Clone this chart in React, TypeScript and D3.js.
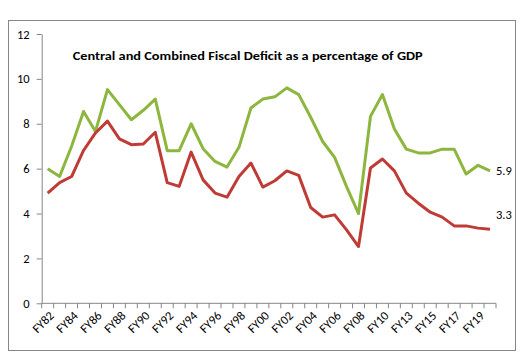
import { useEffect, useRef } from "react";
import * as d3 from "d3";

const years = [
  "FY82", "FY83", "FY84", "FY85", "FY86", "FY87", "FY88", "FY89", "FY90", "FY91",
  "FY92", "FY93", "FY94", "FY95", "FY96", "FY97", "FY98", "FY99", "FY00", "FY01",
  "FY02", "FY03", "FY04", "FY05", "FY06", "FY07", "FY08", "FY09", "FY10", "FY12",
  "FY13", "FY14", "FY15", "FY16", "FY17", "FY18", "FY19", "FY20",
];

const combined = [
  6.0, 5.65, 7.0, 8.55, 7.66, 9.52, 8.85, 8.18, 8.6, 9.1,
  6.8, 6.8, 8.0, 6.89, 6.32, 6.07, 6.95, 8.7, 9.1, 9.2,
  9.6, 9.3, 8.29, 7.21, 6.5, 5.2, 4.0, 8.33, 9.3, 7.77,
  6.87, 6.7, 6.7, 6.87, 6.87, 5.76, 6.15, 5.9,
];

const central = [
  4.91, 5.38, 5.65, 6.81, 7.59, 8.12, 7.33, 7.07, 7.1, 7.62,
  5.38, 5.21, 6.74, 5.5, 4.91, 4.73, 5.65, 6.25, 5.18, 5.46,
  5.9, 5.7, 4.27, 3.84, 3.94, 3.27, 2.53, 6.03, 6.43, 5.9,
  4.91, 4.46, 4.06, 3.84, 3.45, 3.45, 3.35, 3.3,
];

const yTicks = [0, 2, 4, 6, 8, 10, 12];

const GREEN = "#8db63f";
const RED = "#bf3b36";
const AXIS = "#868686";
const FONT = "Carlito, Calibri, 'Open Sans', 'Liberation Sans', sans-serif";

export default function App() {
  const svgRef = useRef<SVGSVGElement>(null);

  useEffect(() => {
    if (!svgRef.current) return;
    const svg = d3.select(svgRef.current);
    svg.selectAll("*").remove();

    const width = 529;
    const height = 363;
    const left = 41.7;
    const right = 496;
    const top = 34;
    const bottom = 303.3;

    svg.attr("viewBox", `0 0 ${width} ${height}`);

    svg.append("rect")
      .attr("width", width)
      .attr("height", height)
      .attr("fill", "#fff");

    // outer chart frame
    svg.append("rect")
      .attr("x", 8.5)
      .attr("y", 20.5)
      .attr("width", 507)
      .attr("height", 330)
      .attr("fill", "none")
      .attr("stroke", AXIS)
      .attr("stroke-width", 1);

    const x = d3.scaleBand().domain(years).range([left, right]).padding(0);
    const y = d3.scaleLinear().domain([0, 12]).range([bottom, top]);
    const cx = (d: string) => (x(d) ?? 0) + x.bandwidth() / 2;

    // y axis
    const yAxis = svg.append("g")
      .attr("transform", `translate(${left},0)`)
      .call(d3.axisLeft(y).tickValues(yTicks).tickSize(5).tickSizeOuter(0).tickPadding(7));
    yAxis.select(".domain").attr("stroke", AXIS);
    yAxis.selectAll("line").attr("stroke", AXIS);
    yAxis.selectAll("text")
      .attr("font-family", FONT)
      .attr("font-size", "12.5px")
      .attr("fill", "#000");

    // x axis: baseline plus ticks between categories
    const xg = svg.append("g");
    xg.append("line")
      .attr("x1", left)
      .attr("x2", right)
      .attr("y1", bottom)
      .attr("y2", bottom)
      .attr("stroke", AXIS);
    const bounds = years.map((d) => x(d) ?? 0).concat([right]);
    xg.selectAll(".tick")
      .data(bounds)
      .join("line")
      .attr("x1", (d) => d)
      .attr("x2", (d) => d)
      .attr("y1", bottom)
      .attr("y2", bottom + 5)
      .attr("stroke", AXIS);
    xg.selectAll(".lbl")
      .data(years.filter((_, i) => i % 2 === 0))
      .join("text")
      .attr("transform", (d) => `translate(${cx(d) + 4},${bottom + 10}) rotate(-45)`)
      .attr("text-anchor", "end")
      .attr("dy", "0.35em")
      .attr("font-family", FONT)
      .attr("font-size", "12.5px")
      .attr("fill", "#000")
      .text((d) => d);

    const line = d3.line<number>()
      .x((_, i) => cx(years[i]))
      .y((d) => y(d));

    svg.append("path")
      .datum(combined)
      .attr("fill", "none")
      .attr("stroke", GREEN)
      .attr("stroke-width", 3)
      .attr("stroke-linejoin", "round")
      .attr("d", line);

    svg.append("path")
      .datum(central)
      .attr("fill", "none")
      .attr("stroke", RED)
      .attr("stroke-width", 3)
      .attr("stroke-linejoin", "round")
      .attr("d", line);

    const last = years.length - 1;
    svg.append("text")
      .attr("x", cx(years[last]) + 6)
      .attr("y", y(combined[last]) + 4)
      .attr("font-family", FONT)
      .attr("font-size", "12.5px")
      .attr("fill", "#000")
      .text(combined[last].toFixed(1));
    svg.append("text")
      .attr("x", cx(years[last]) + 6)
      .attr("y", y(central[last]) - 10)
      .attr("font-family", FONT)
      .attr("font-size", "12.5px")
      .attr("fill", "#000")
      .text(central[last].toFixed(1));

    svg.append("text")
      .attr("x", 72.7)
      .attr("y", 60)
      .attr("font-family", FONT)
      .attr("font-size", "12px")
      .attr("font-weight", "bold")
      .attr("fill", "#000")
      .attr("textLength", 350)
      .attr("lengthAdjust", "spacingAndGlyphs")
      .text("Central and Combined Fiscal Deficit as a percentage of GDP");
  }, []);

  return (
    <svg
      ref={svgRef}
      width={529}
      height={363}
      style={{ position: "absolute", left: 0, top: 0 }}
    />
  );
}
